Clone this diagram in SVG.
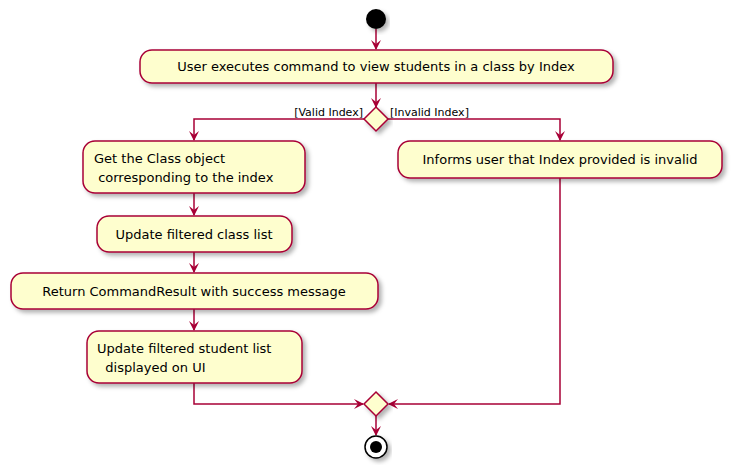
<svg xmlns="http://www.w3.org/2000/svg" width="737" height="474" viewBox="0 0 737 474">
<defs>
<filter id="sh" x="-10%" y="-10%" width="130%" height="140%"><feDropShadow dx="3" dy="3" stdDeviation="2" flood-color="#000" flood-opacity="0.3"/></filter>
<marker id="ar" viewBox="0 0 10 10" refX="9" refY="5" markerWidth="10" markerHeight="10" markerUnits="userSpaceOnUse" orient="auto"><path d="M0,0 L10,5 L0,10 L4,5 Z" fill="#A80036"/></marker>
<style>
.n{fill:#FEFECE;stroke:#A80036;stroke-width:1.5;filter:url(#sh)}
.t{font-family:"DejaVu Sans",sans-serif;font-size:13px;fill:#000}
.l{font-family:"DejaVu Sans",sans-serif;font-size:11px;fill:#000}
.c{fill:none;stroke:#A80036;stroke-width:1.5;marker-end:url(#ar)}
</style>
</defs>
<rect width="737" height="474" fill="#fff"/>
<g id="connectors">
<path class="c" d="M376,29 V49"/>
<path class="c" d="M376,83 V107"/>
<path class="c" d="M364,119 H194 V140"/>
<path class="c" d="M388,119 H560 V140"/>
<path class="c" d="M194,193 V215"/>
<path class="c" d="M194,252 V272"/>
<path class="c" d="M194,309 V330"/>
<path class="c" d="M194,383 V404 H363"/>
<path class="c" d="M560,178 V404 H389"/>
<path class="c" d="M376,416 V435"/>
<text class="l" x="363" y="116" text-anchor="end">[Valid Index]</text>
<text class="l" x="390" y="116">[Invalid Index]</text>
</g>
<g id="start"><circle cx="376" cy="19" r="10" fill="#000" filter="url(#sh)"/></g>
<g id="n1"><rect class="n" x="140" y="50" width="473" height="33" rx="12"/><text class="t" x="376" y="71" text-anchor="middle">User executes command to view students in a class by Index</text></g>
<g id="d1"><polygon class="n" points="376,107 388,119 376,131 364,119"/></g>
<g id="n2"><rect class="n" x="83" y="141" width="222" height="52" rx="12"/><text class="t" x="94" y="163">Get the Class object</text><text class="t" x="94" y="182" xml:space="preserve"> corresponding to the index</text></g>
<g id="n3"><rect class="n" x="97" y="216" width="195" height="36" rx="12"/><text class="t" x="194" y="239" text-anchor="middle">Update filtered class list</text></g>
<g id="n4"><rect class="n" x="11" y="273" width="367" height="36" rx="12"/><text class="t" x="194" y="296" text-anchor="middle">Return CommandResult with success message</text></g>
<g id="n5"><rect class="n" x="87" y="331" width="215" height="52" rx="12"/><text class="t" x="97" y="353">Update filtered student list</text><text class="t" x="97" y="372" xml:space="preserve">  displayed on UI</text></g>
<g id="n6"><rect class="n" x="398" y="141" width="324" height="37" rx="12"/><text class="t" x="560" y="164" text-anchor="middle">Informs user that Index provided is invalid</text></g>
<g id="d2"><polygon class="n" points="376,392 388,404 376,416 364,404"/></g>
<g id="end"><circle cx="376" cy="447" r="11" fill="#fff" stroke="#000" stroke-width="1.5" filter="url(#sh)"/><circle cx="376" cy="447" r="6" fill="#000"/></g>
</svg>
